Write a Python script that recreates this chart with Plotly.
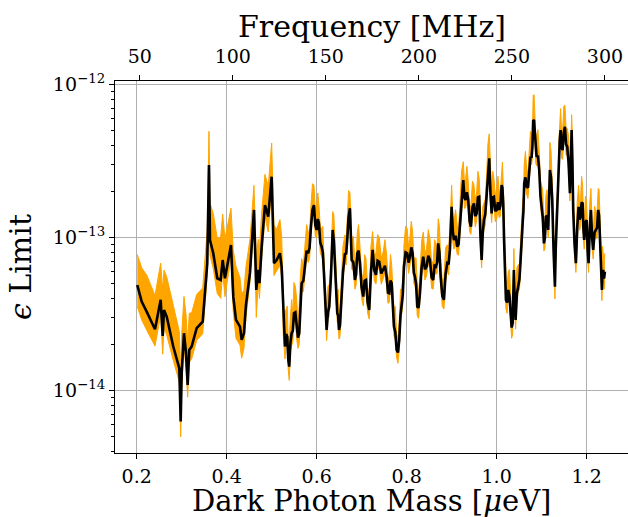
import numpy as np
import plotly.graph_objects as go

# ---- data (mass in micro-eV, limit as log10 exponent) ----
mass_uev = [
    0.2013, 0.2111, 0.2222, 0.2407, 0.2533, 0.2578, 0.2607, 0.2667, 0.2813, 0.2947,
    0.2978, 0.3000, 0.3051, 0.3096, 0.3133, 0.3169, 0.3222, 0.3333, 0.3467, 0.3518,
    0.3569, 0.3607, 0.3629, 0.3702, 0.3791, 0.3867, 0.3911, 0.3962, 0.4096, 0.4147,
    0.4207, 0.4296, 0.4333, 0.4384, 0.4429, 0.4518, 0.4607, 0.4658, 0.4702, 0.4729,
    0.4778, 0.4851, 0.4924, 0.5000, 0.5051, 0.5111, 0.5184, 0.5222, 0.5258, 0.5296,
    0.5347, 0.5391, 0.5444, 0.5496, 0.5556, 0.5613, 0.5667, 0.5740, 0.5813, 0.5873,
    0.5940, 0.6000, 0.6051, 0.6111, 0.6162, 0.6222, 0.6280, 0.6356, 0.6407, 0.6458,
    0.6496, 0.6540, 0.6629, 0.6680, 0.6740, 0.6778, 0.6851, 0.6902, 0.6962, 0.7036,
    0.7096, 0.7169, 0.7244, 0.7318, 0.7391, 0.7480, 0.7556, 0.7613, 0.7667, 0.7718,
    0.7778, 0.7836, 0.7889, 0.7940, 0.8013, 0.8073, 0.8133, 0.8184, 0.8236, 0.8296,
    0.8369, 0.8444, 0.8518, 0.8591, 0.8651, 0.8702, 0.8756, 0.8829, 0.8902, 0.8962,
    0.9000, 0.9051, 0.9124, 0.9184, 0.9258, 0.9311, 0.9369, 0.9429, 0.9496, 0.9556,
    0.9613, 0.9667, 0.9718, 0.9778, 0.9836, 0.9889, 0.9940, 1.0000, 1.0058, 1.0111,
    1.0147, 1.0184, 1.0207, 1.0258, 1.0311, 1.0356, 1.0384, 1.0422, 1.0480, 1.0533,
    1.0578, 1.0613, 1.0667, 1.0724, 1.0778, 1.0813, 1.0851, 1.0889, 1.0947, 1.1000,
    1.1051, 1.1096, 1.1147, 1.1184, 1.1236, 1.1296, 1.1333, 1.1384, 1.1422, 1.1467,
    1.1518, 1.1569, 1.1629, 1.1667, 1.1702, 1.1762, 1.1822, 1.1867, 1.1911, 1.1947,
    1.2000, 1.2044, 1.2096, 1.2147, 1.2207, 1.2258, 1.2296, 1.2340, 1.2369, 1.2407,
]

limit_exp = [
    -13.309, -13.417, -13.483, -13.598, -13.406, -13.641, -13.472, -13.515, -13.711, -13.852,
    -14.200, -13.883, -13.624, -13.752, -13.961, -13.733, -13.711, -13.591, -13.548, -13.363,
    -13.167, -12.526, -13.015, -13.102, -13.265, -13.276, -13.146, -13.265, -13.048, -13.385,
    -13.537, -13.581, -13.667, -13.624, -13.439, -13.230, -12.819, -13.341, -13.211, -13.297,
    -13.059, -12.787, -12.863, -12.602, -13.167, -13.146, -13.102, -13.189, -13.537, -13.711,
    -13.646, -13.842, -13.624, -13.493, -13.581, -13.624, -13.297, -13.167, -13.102, -12.928,
    -12.787, -12.950, -12.906, -13.059, -13.232, -13.602, -13.450, -12.950, -13.189, -13.493,
    -13.602, -13.450, -13.102, -13.015, -12.808, -13.146, -13.276, -13.102, -13.167, -13.385,
    -13.276, -13.472, -13.080, -13.243, -13.157, -13.211, -13.254, -13.363, -13.297, -13.581,
    -13.733, -13.667, -13.450, -13.189, -13.102, -13.124, -13.102, -13.254, -13.450, -13.363,
    -13.124, -13.189, -13.146, -13.276, -13.189, -13.037, -13.254, -13.406, -13.167, -13.080,
    -12.798, -13.015, -13.059, -12.928, -12.624, -12.754, -12.754, -12.928, -12.776, -12.841,
    -12.733, -13.146, -12.885, -12.710, -12.482, -12.841, -12.733, -12.819, -12.819, -12.656,
    -12.776, -13.167, -13.406, -13.341, -13.515, -13.558, -13.211, -13.537, -13.297, -13.146,
    -12.906, -12.645, -12.667, -12.580, -12.472, -12.232, -12.319, -12.472, -12.558, -12.798,
    -13.037, -12.863, -12.950, -12.558, -12.754, -13.320, -12.906, -12.515, -12.297, -12.428,
    -12.276, -12.406, -12.710, -12.297, -12.819, -13.167, -12.798, -12.863, -12.776, -13.015,
    -12.885, -13.167, -12.819, -13.080, -12.950, -12.819, -12.993, -13.341, -13.211, -13.222,
]

# width of the orange uncertainty band above / below the limit, in decades
band_hi_dec = [
    0.20, 0.22, 0.24, 0.22, 0.24, 0.30, 0.26, 0.26, 0.27, 0.24,
    0.30, 0.25, 0.24, 0.25, 0.28, 0.24, 0.22, 0.22, 0.22, 0.22,
    0.22, 0.22, 0.24, 0.26, 0.26, 0.28, 0.30, 0.26, 0.24, 0.30,
    0.35, 0.32, 0.30, 0.28, 0.25, 0.22, 0.16, 0.22, 0.20, 0.22,
    0.22, 0.20, 0.20, 0.22, 0.25, 0.20, 0.22, 0.20, 0.22, 0.22,
    0.20, 0.18, 0.22, 0.20, 0.18, 0.18, 0.16, 0.15, 0.14, 0.14,
    0.13, 0.16, 0.12, 0.12, 0.10, 0.12, 0.14, 0.12, 0.14, 0.12,
    0.14, 0.12, 0.12, 0.14, 0.10, 0.14, 0.12, 0.13, 0.14, 0.10,
    0.14, 0.10, 0.12, 0.14, 0.16, 0.12, 0.14, 0.10, 0.12, 0.12,
    0.10, 0.12, 0.12, 0.14, 0.16, 0.12, 0.14, 0.12, 0.14, 0.12,
    0.16, 0.12, 0.14, 0.12, 0.14, 0.16, 0.12, 0.14, 0.12, 0.14,
    0.14, 0.12, 0.14, 0.14, 0.12, 0.14, 0.12, 0.14, 0.12, 0.14,
    0.12, 0.14, 0.12, 0.12, 0.16, 0.12, 0.12, 0.14, 0.12, 0.12,
    0.12, 0.14, 0.14, 0.12, 0.14, 0.12, 0.14, 0.12, 0.12, 0.14,
    0.14, 0.12, 0.12, 0.12, 0.14, 0.16, 0.12, 0.14, 0.12, 0.14,
    0.12, 0.14, 0.12, 0.18, 0.12, 0.10, 0.12, 0.14, 0.14, 0.12,
    0.14, 0.12, 0.12, 0.10, 0.12, 0.12, 0.14, 0.12, 0.12, 0.12,
    0.12, 0.12, 0.14, 0.12, 0.12, 0.14, 0.12, 0.10, 0.12, 0.12,
]
band_lo_dec = [
    0.14, 0.12, 0.12, 0.11, 0.10, 0.12, 0.12, 0.12, 0.09, 0.09,
    0.10, 0.10, 0.09, 0.10, 0.08, 0.08, 0.08, 0.08, 0.08, 0.08,
    0.08, 0.06, 0.10, 0.10, 0.10, 0.12, 0.08, 0.12, 0.08, 0.10,
    0.12, 0.12, 0.12, 0.10, 0.08, 0.06, 0.06, 0.18, 0.08, 0.10,
    0.08, 0.08, 0.10, 0.08, 0.08, 0.07, 0.08, 0.07, 0.10, 0.08,
    0.08, 0.09, 0.08, 0.07, 0.08, 0.07, 0.06, 0.06, 0.06, 0.06,
    0.06, 0.05, 0.06, 0.06, 0.06, 0.07, 0.06, 0.05, 0.06, 0.06,
    0.06, 0.06, 0.05, 0.05, 0.05, 0.06, 0.06, 0.05, 0.06, 0.06,
    0.06, 0.06, 0.05, 0.06, 0.05, 0.06, 0.06, 0.06, 0.06, 0.06,
    0.05, 0.06, 0.06, 0.06, 0.05, 0.06, 0.05, 0.06, 0.06, 0.05,
    0.05, 0.06, 0.05, 0.06, 0.05, 0.05, 0.06, 0.06, 0.05, 0.05,
    0.05, 0.06, 0.05, 0.05, 0.06, 0.05, 0.06, 0.05, 0.06, 0.05,
    0.06, 0.05, 0.06, 0.05, 0.05, 0.06, 0.05, 0.06, 0.05, 0.06,
    0.05, 0.06, 0.06, 0.05, 0.06, 0.07, 0.05, 0.06, 0.05, 0.06,
    0.05, 0.06, 0.05, 0.06, 0.05, 0.06, 0.05, 0.06, 0.05, 0.06,
    0.05, 0.06, 0.05, 0.06, 0.05, 0.08, 0.05, 0.06, 0.05, 0.06,
    0.05, 0.06, 0.05, 0.06, 0.05, 0.06, 0.05, 0.06, 0.05, 0.06,
    0.05, 0.06, 0.05, 0.06, 0.05, 0.06, 0.05, 0.07, 0.05, 0.06,
]

# fine-scale scan noise read between the points above (dense high-mass region)
mass_fine = [
    0.5240, 0.5277, 0.5322, 0.5369, 0.5418, 0.5470, 0.5526, 0.5585, 0.5640, 0.5704,
    0.5777, 0.5843, 0.5907, 0.5970, 0.6026, 0.6081, 0.6137, 0.6192, 0.6251, 0.6318,
    0.6382, 0.6433, 0.6477, 0.6518, 0.6585, 0.6655, 0.6710, 0.6759, 0.6815, 0.6877,
    0.6932, 0.6999, 0.7066, 0.7133, 0.7207, 0.7281, 0.7355, 0.7436, 0.7518, 0.7585,
    0.7640, 0.7693, 0.7748, 0.7807, 0.7863, 0.7915, 0.7977, 0.8043, 0.8103, 0.8159,
    0.8210, 0.8266, 0.8333, 0.8407, 0.8481, 0.8555, 0.8621, 0.8677, 0.8729, 0.8793,
    0.8866, 0.8932, 0.8981, 0.9026, 0.9088, 0.9154, 0.9221, 0.9285, 0.9340, 0.9399,
    0.9463, 0.9526, 0.9585, 0.9640, 0.9693, 0.9748, 0.9807, 0.9863, 0.9915, 0.9970,
    1.0029, 1.0085, 1.0129, 1.0166, 1.0196, 1.0233, 1.0285, 1.0334, 1.0370, 1.0403,
    1.0451, 1.0507, 1.0556, 1.0596, 1.0640, 1.0696, 1.0751, 1.0796, 1.0832, 1.0870,
    1.0918, 1.0974, 1.1026, 1.1074, 1.1122, 1.1166, 1.1210, 1.1266, 1.1315, 1.1359,
    1.1403, 1.1445, 1.1493, 1.1544, 1.1599, 1.1648, 1.1685, 1.1732, 1.1792, 1.1845,
    1.1889, 1.1929, 1.1974, 1.2022, 1.2070, 1.2122, 1.2177, 1.2233, 1.2277, 1.2318,
    1.2355, 1.2388,
]
limit_fine_exp = [
    -13.313, -13.674, -13.629, -13.794, -13.683, -13.609, -13.487, -13.653, -13.411, -13.282,
    -13.085, -13.065, -12.818, -12.919, -12.878, -13.033, -13.096, -13.467, -13.486, -13.250,
    -13.020, -13.391, -13.508, -13.576, -13.226, -13.109, -12.862, -13.027, -13.161, -13.239,
    -13.085, -13.326, -13.281, -13.424, -13.226, -13.212, -13.150, -13.234, -13.183, -13.359,
    -13.280, -13.489, -13.617, -13.750, -13.509, -13.370, -13.096, -13.163, -13.063, -13.228,
    -13.302, -13.457, -13.194, -13.207, -13.118, -13.261, -13.183, -13.163, -13.096, -13.380,
    -13.237, -13.174, -12.899, -12.957, -12.987, -13.044, -12.736, -12.739, -12.704, -12.891,
    -12.802, -12.859, -12.737, -12.990, -12.966, -12.848, -12.556, -12.712, -12.737, -12.826,
    -12.769, -12.788, -12.676, -13.022, -13.247, -13.424, -13.378, -13.587, -13.335, -13.424,
    -13.367, -13.272, -12.986, -12.826, -12.606, -12.674, -12.476, -12.402, -12.236, -12.446,
    -12.465, -12.728, -12.868, -13.000, -12.857, -12.804, -12.606, -13.087, -13.063, -12.761,
    -12.366, -12.413, -12.312, -12.391, -12.508, -12.554, -12.508, -13.043, -12.933, -12.881,
    -12.770, -12.946, -12.900, -13.076, -12.943, -13.000, -12.965, -12.935, -12.856, -13.217,
    -13.226, -13.267,
]
band_hi_fine = [0.17, 0.10] * 66
band_lo_fine = [0.05, 0.07] * 66

mass_ticks = [0.2, 0.4, 0.6, 0.8, 1.0, 1.2]
mass_tick_text = ["0.2", "0.4", "0.6", "0.8", "1.0", "1.2"]
freq_ticks = [50, 100, 150, 200, 250, 300]
decade_ticks = [1e-14, 1e-13, 1e-12]
decade_text = ["10<sup>−14</sup>", "10<sup>−13</sup>", "10<sup>−12</sup>"]
MHZ_PER_UEV = 241.8

x_range = [0.1518, 1.292]
y_range = [-14.406, -11.977]

# merge coarse and fine readings, ordered by mass
m_all = np.array(mass_uev + mass_fine)
e_all = np.array(limit_exp + limit_fine_exp)
hi_all = np.array(band_hi_dec + band_hi_fine)
lo_all = np.array(band_lo_dec + band_lo_fine)
order = np.argsort(m_all)
m_all, e_all, hi_all, lo_all = m_all[order], e_all[order], hi_all[order], lo_all[order]

center = 10 ** e_all
upper = 10 ** (e_all + hi_all)
lower = 10 ** (e_all - lo_all)

ORANGE = "#FFA500"
FONT = "DejaVu Serif"

fig = go.Figure()
fig.add_trace(go.Scatter(x=m_all, y=lower, mode="lines",
                         line=dict(color=ORANGE, width=1), hoverinfo="skip", showlegend=False))
fig.add_trace(go.Scatter(x=m_all, y=upper, mode="lines", fill="tonexty",
                         fillcolor=ORANGE, line=dict(color=ORANGE, width=1),
                         hoverinfo="skip", showlegend=False))
fig.add_trace(go.Scatter(x=m_all, y=center, mode="lines",
                         line=dict(color="black", width=2.6), showlegend=False))
# invisible trace to activate the top frequency axis
fig.add_trace(go.Scatter(x=[freq_ticks[0], freq_ticks[-1]], y=[1e-13, 1e-13], xaxis="x2",
                         mode="markers", marker=dict(opacity=0), hoverinfo="skip",
                         showlegend=False))

minor_vals = [k * 10.0 ** e for e in (-15, -14, -13) for k in range(2, 10)]

tickfont = dict(family=FONT, size=19, color="black")
fig.update_layout(
    width=628, height=517,
    margin=dict(l=115, r=0, t=81, b=64),
    paper_bgcolor="white", plot_bgcolor="white",
    showlegend=False,
    xaxis=dict(range=x_range, tickmode="array", tickvals=mass_ticks, ticktext=mass_tick_text,
               ticks="outside", ticklen=5, tickwidth=1, tickcolor="black",
               showline=True, linecolor="black", linewidth=1.2,
               showgrid=True, gridcolor="#b0b0b0", gridwidth=1, zeroline=False,
               tickfont=tickfont, ticklabelstandoff=1),
    xaxis2=dict(overlaying="x", side="top",
                range=[x_range[0] * MHZ_PER_UEV, x_range[1] * MHZ_PER_UEV],
                tickmode="array", tickvals=freq_ticks,
                ticks="outside", ticklen=5, tickwidth=1, tickcolor="black",
                showline=True, linecolor="black", linewidth=1.2,
                showgrid=False, zeroline=False, tickfont=tickfont, ticklabelstandoff=4),
    yaxis=dict(type="log", range=y_range, tickmode="array", tickvals=decade_ticks,
               ticktext=decade_text, ticks="outside", ticklen=5, tickwidth=1, tickcolor="black",
               showline=True, linecolor="black", linewidth=1.2, mirror=True,
               showgrid=True, gridcolor="#b0b0b0", gridwidth=1, zeroline=False,
               tickfont=tickfont,
               minor=dict(tickmode="array", tickvals=minor_vals, ticks="outside",
                          ticklen=2.5, tickwidth=0.8, tickcolor="black", showgrid=False)),
    annotations=[
        dict(text="Frequency [MHz]", xref="paper", yref="paper", x=0.5, y=1.0, yshift=55,
             xanchor="center", yanchor="middle", showarrow=False,
             font=dict(family=FONT, size=30, color="black")),
        dict(text="Dark Photon Mass [<i>μ</i>eV]", xref="paper", yref="paper", x=0.5, y=0.0,
             yshift=-48, xanchor="center", yanchor="middle", showarrow=False, borderpad=0,
             font=dict(family=FONT, size=29, color="black")),
        dict(text="<i>ϵ</i> Limit", xref="paper", yref="paper", x=0.0, xshift=-95, y=0.5,
             xanchor="center", yanchor="middle", textangle=-90, showarrow=False,
             font=dict(family=FONT, size=30, color="black")),
    ],
)

fig.write_html("out.html")
